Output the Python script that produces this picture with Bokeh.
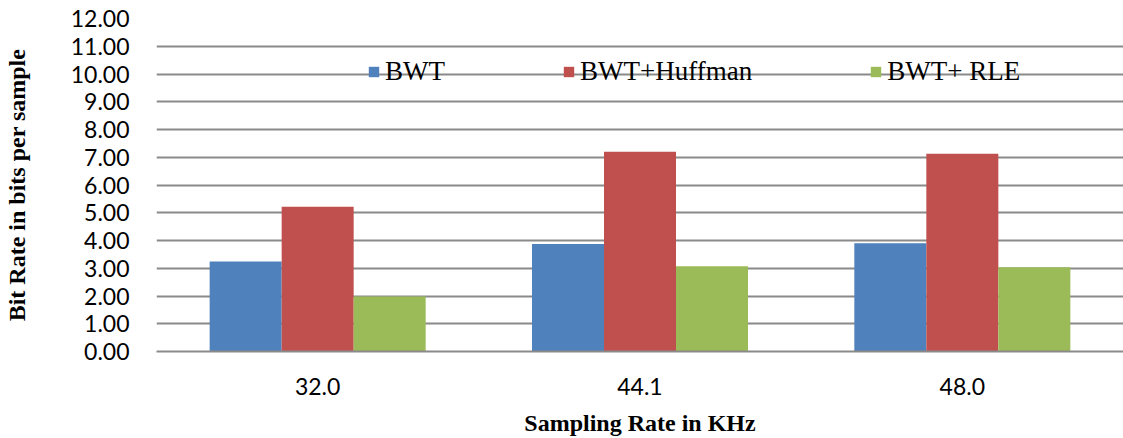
from bokeh.plotting import figure
from bokeh.models import ColumnDataSource, FactorRange, Range1d, Legend, LegendItem, FixedTicker, NumeralTickFormatter
from bokeh.transform import dodge
from bokeh.embed import file_html
from bokeh.resources import INLINE

categories = ["32.0", "44.1", "48.0"]
series_names = ["BWT", "BWT+Huffman", "BWT+ RLE"]
bwt = [3.24, 3.87, 3.90]
bwt_huffman = [5.22, 7.20, 7.13]
bwt_rle = [1.98, 3.07, 3.04]
y_ticks = [0, 1, 2, 3, 4, 5, 6, 7, 8, 9, 10, 11, 12]
colors = ["#4F81BD", "#C0504D", "#9BBB59"]
x_title = "Sampling Rate in KHz"
y_title = "Bit Rate in bits per sample"

source = ColumnDataSource(data=dict(cat=categories, bwt=bwt, huff=bwt_huffman, rle=bwt_rle))

p = figure(x_range=FactorRange(*categories, range_padding=0),
           y_range=Range1d(0, 12),
           width=1123, height=438, output_backend="svg", toolbar_location=None,
           min_border_left=155, min_border_right=0, min_border_top=18, min_border_bottom=86)
p.outline_line_color = None
p.background_fill_color = "white"
p.border_fill_color = "white"

bw = 0.2234
r1 = p.vbar(x=dodge("cat", -bw, range=p.x_range), top="bwt", width=bw, source=source,
            fill_color=colors[0], line_color=None)
r2 = p.vbar(x=dodge("cat", 0.0, range=p.x_range), top="huff", width=bw, source=source,
            fill_color=colors[1], line_color=None)
r3 = p.vbar(x=dodge("cat", bw, range=p.x_range), top="rle", width=bw, source=source,
            fill_color=colors[2], line_color=None)

# grid
p.xgrid.grid_line_color = None
p.ygrid.grid_line_color = "#8a8a8a"
p.ygrid.grid_line_width = 2
p.ygrid.level = "underlay"

# y axis
p.yaxis.ticker = FixedTicker(ticks=y_ticks)
p.yaxis.formatter = NumeralTickFormatter(format="0.00")
p.yaxis.axis_line_color = None
p.yaxis.major_tick_line_color = None
p.yaxis.minor_tick_line_color = None
p.yaxis.major_tick_out = 0
p.yaxis.major_tick_in = 0
p.yaxis.major_label_standoff = 27
p.yaxis.major_label_text_font = "Lato"
p.yaxis.major_label_text_font_size = "23px"
p.yaxis.major_label_text_color = "black"
p.yaxis.axis_label = y_title
p.yaxis.axis_label_text_font = "Liberation Serif"
p.yaxis.axis_label_text_font_style = "bold"
p.yaxis.axis_label_text_font_size = "24px"
p.yaxis.axis_label_text_color = "black"
p.yaxis.axis_label_standoff = 38

# x axis
p.xaxis.axis_line_color = "#8a8a8a"
p.xaxis.axis_line_width = 2
p.xaxis.major_tick_line_color = None
p.xaxis.minor_tick_line_color = None
p.xaxis.major_tick_out = 0
p.xaxis.major_tick_in = 0
p.xaxis.major_label_standoff = 26
p.xaxis.major_label_text_font = "Lato"
p.xaxis.major_label_text_font_size = "23px"
p.xaxis.major_label_text_color = "black"
p.xaxis.axis_label = x_title
p.xaxis.axis_label_text_font = "Liberation Serif"
p.xaxis.axis_label_text_font_style = "bold"
p.xaxis.axis_label_text_font_size = "24px"
p.xaxis.axis_label_text_color = "black"
p.xaxis.axis_label_standoff = 12

legend = Legend(items=[LegendItem(label=series_names[0], renderers=[r1]),
                       LegendItem(label=series_names[1], renderers=[r2]),
                       LegendItem(label=series_names[2], renderers=[r3])],
                location=(211, 264), orientation="horizontal",
                spacing=117, padding=0, margin=0,
                glyph_width=13, glyph_height=13, label_standoff=5,
                label_text_font="Liberation Serif", label_text_font_size="27px",
                label_text_color="black",
                border_line_color=None, background_fill_alpha=0)
p.add_layout(legend, "center")

open("out.html", "w").write(file_html(p, INLINE))
